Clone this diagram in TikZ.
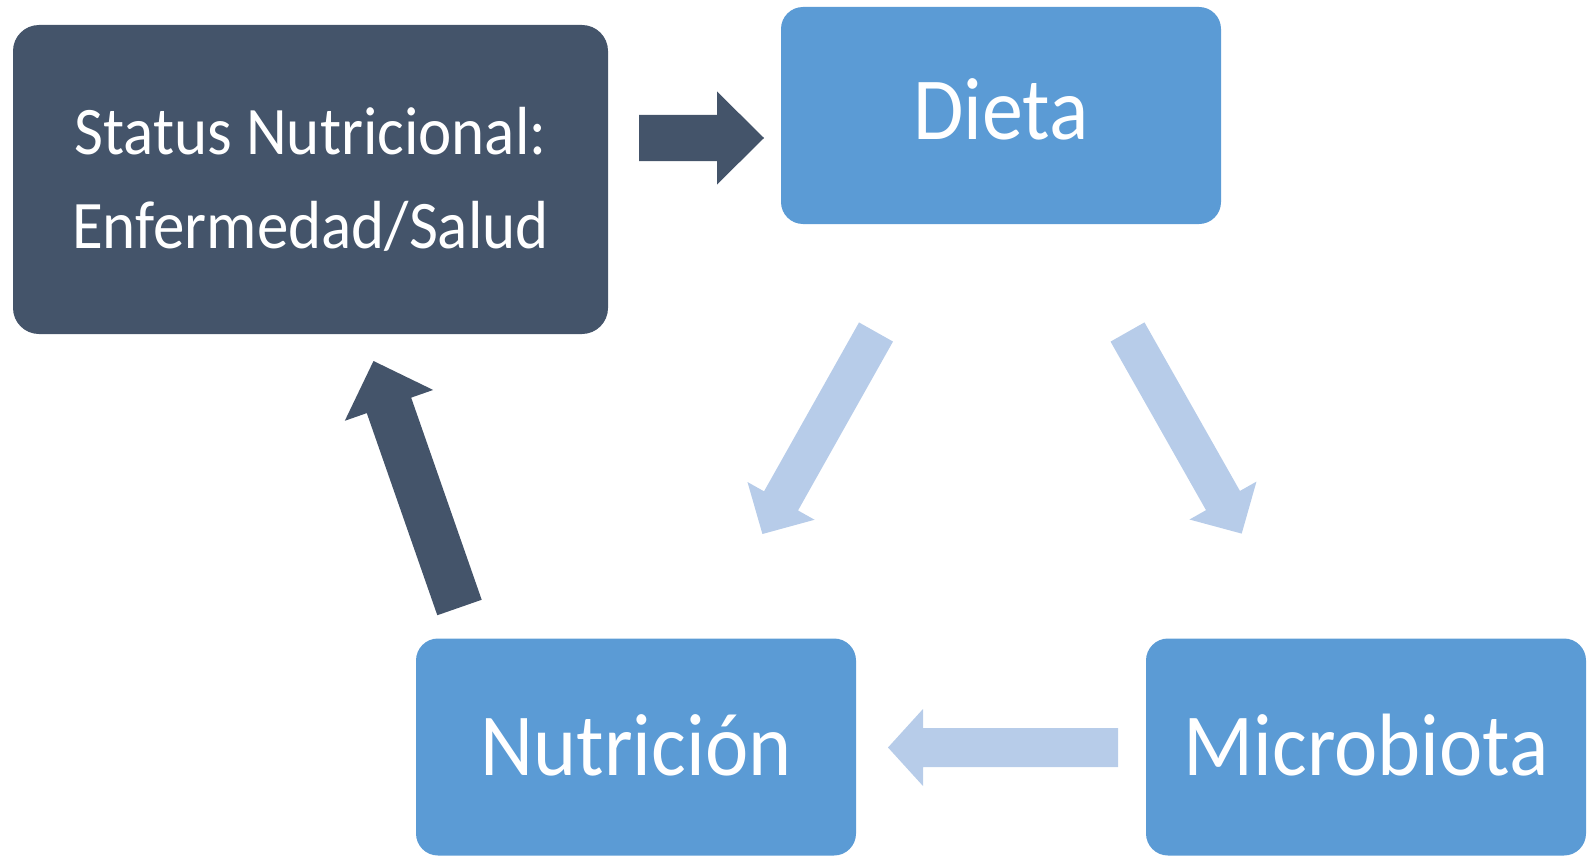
\documentclass[tikz,border=0pt]{standalone}
\usepackage{fontspec}
\setmainfont{Carlito}
\usetikzlibrary{calc}

\definecolor{slate}{HTML}{44546A}
\definecolor{boxblue}{HTML}{5B9BD5}
\definecolor{paleblue}{HTML}{B7CCE9}

% slightly taller lettering
\newcommand\stretchtext[1]{\scalebox{1}[1.08]{#1}}

% block arrow: style, tail, tip, shaft half width, head half width, head length
\newcommand\blockarrow[6]{%
  \coordinate (hb) at ($(#3)!#6!(#2)$);
  \fill[#1] ($(#2)!#4!90:(#3)$) -- ($(hb)!#4!90:(#3)$) -- ($(hb)!#5!90:(#3)$)
    -- (#3) -- ($(hb)!#5!-90:(#3)$) -- ($(hb)!#4!-90:(#3)$)
    -- ($(#2)!#4!-90:(#3)$) -- cycle;}

\tikzset{
  bluebox/.style={rounded corners=22pt, fill=boxblue, text=white,
    minimum width=440pt, minimum height=217pt, inner sep=0pt,
    font=\fontsize{82}{98}\selectfont, text height=56pt, text depth=0pt},
  darkbox/.style={rounded corners=26pt, fill=slate, text=white,
    minimum width=595pt, minimum height=309pt, inner sep=0pt, align=center,
    font=\fontsize{63}{94}\selectfont},
  darkflow/.style={fill=slate},
  paleflow/.style={fill=paleblue}
}

\begin{document}
\begin{tikzpicture}[x=1pt,y=-1pt]
\useasboundingbox (0,0) rectangle (1589,864);

% boxes
\node[darkbox] (status) at (310.5,179.5) {\stretchtext{Status Nutricional:}\\\stretchtext{Enfermedad/Salud}};
\node[bluebox, text height=48pt] (dieta) at (1001,115.5) {\stretchtext{Dieta}};
\node[bluebox] (nutri) at (636,747) {\stretchtext{Nutrición}};
\node[bluebox] (micro) at (1366,747) {\stretchtext{Microbiota}};

% arrow ends
\coordinate (s2d-tail) at (639,138);
\coordinate (s2d-tip)  at (764,138);
\coordinate (d2n-tail) at (876,332);
\coordinate (d2n-tip)  at (762.4,534);
\coordinate (d2m-tail) at (1127.5,332);
\coordinate (d2m-tip)  at (1241.7,533.6);
\coordinate (m2n-tail) at (1118,747.5);
\coordinate (m2n-tip)  at (888,747.5);
\coordinate (n2s-tail) at (459.5,607.5);
\coordinate (n2s-tip)  at (373.5,361);

% flows
\blockarrow{darkflow}{s2d-tail}{s2d-tip}{23pt}{46.5pt}{47pt}
\blockarrow{paleflow}{d2n-tail}{d2n-tip}{19.5pt}{38.5pt}{38pt}
\blockarrow{paleflow}{d2m-tail}{d2m-tip}{19.5pt}{38.5pt}{38pt}
\blockarrow{paleflow}{m2n-tail}{m2n-tip}{19.5pt}{38.5pt}{35pt}
\blockarrow{darkflow}{n2s-tail}{n2s-tip}{23.5pt}{46.8pt}{47pt}
\end{tikzpicture}
\end{document}
